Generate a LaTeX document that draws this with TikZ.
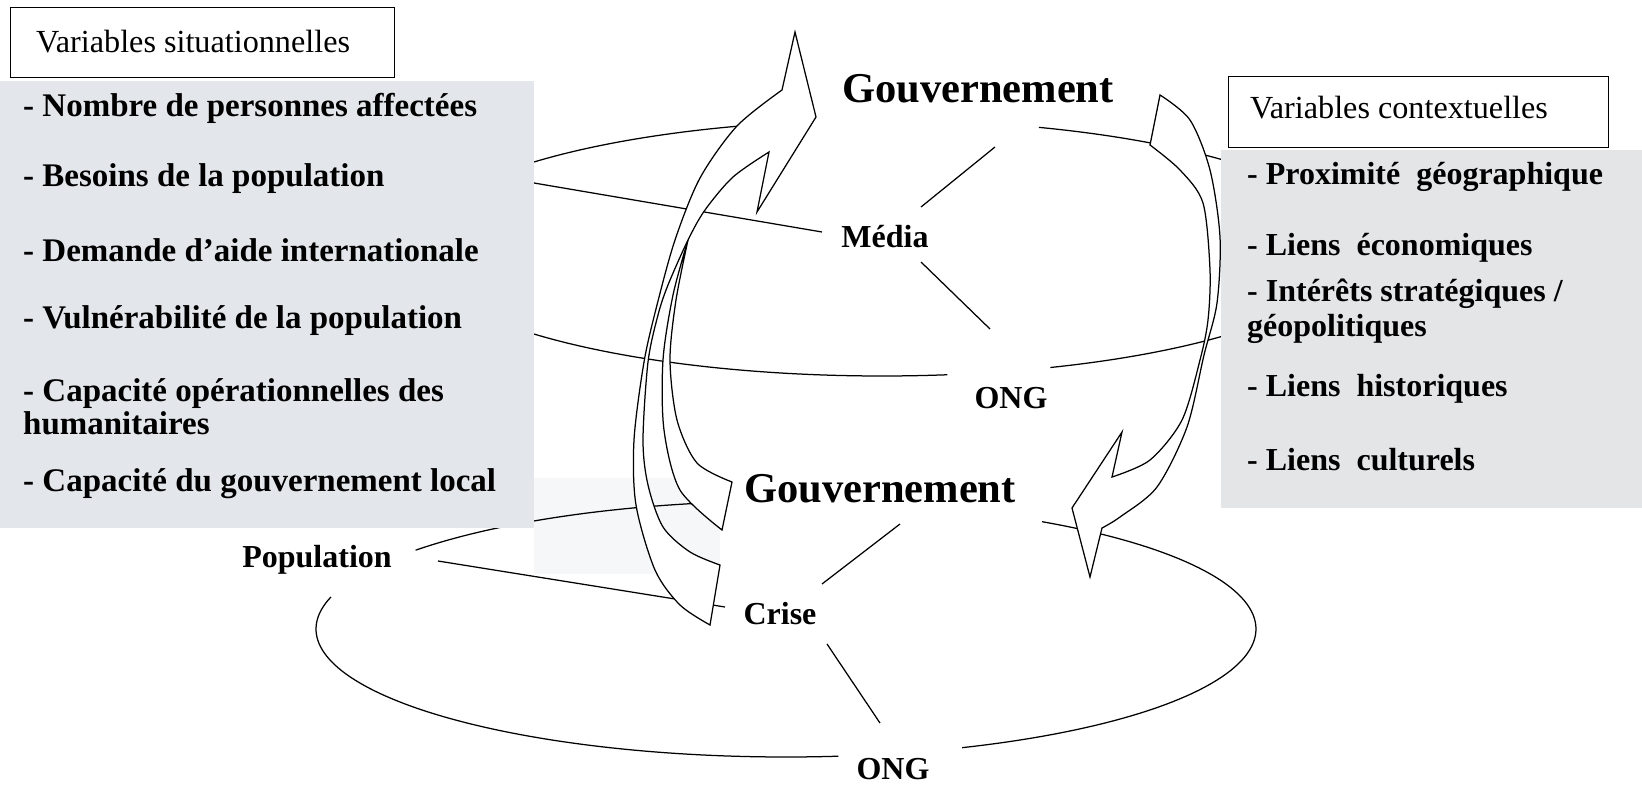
\documentclass[tikz,border=0pt]{standalone}
\usepackage{fontspec}
\setmainfont{Liberation Serif}
\definecolor{panelL}{RGB}{227,230,234}
\definecolor{panelR}{RGB}{228,229,231}
\definecolor{lightp}{RGB}{246,247,248}
\tikzset{
  hdrbox/.style={draw, line width=1pt, fill=white},
  hdrtxt/.style={font=\fontsize{32.2}{36}\selectfont, anchor=west, inner sep=0pt},
  litem/.style={font=\fontsize{33}{33}\selectfont\bfseries, anchor=west, inner sep=0pt, align=left},
  ritem/.style={font=\fontsize{32}{35}\selectfont\bfseries, anchor=west, inner sep=0pt, align=left},
  actor/.style={font=\fontsize{32}{36}\selectfont\bfseries, inner sep=0pt},
  govlbl/.style={font=\fontsize{42.5}{48}\selectfont\bfseries, inner sep=0pt},
  conn/.style={line width=1.25pt},
  bigarrow/.style={draw, fill=white, line width=1.25pt, line join=miter},
}
\begin{document}
\begin{tikzpicture}[x=1pt,y=-1pt]
\useasboundingbox (0,0) rectangle (1642,788);
\fill[white] (0,0) rectangle (1642,788);

% faint background strip
\fill[lightp] (534,478) rectangle (720,574);

% ---------- upper ellipse (international network) ----------
\draw[conn] plot[domain=180:255, samples=60, variable=\t] ({882+470*cos(\t)},{248+128*sin(\t)});
\draw[conn] plot[domain=289.5:360, samples=60, variable=\t] ({882+470*cos(\t)},{248+128*sin(\t)});
\draw[conn] plot[domain=82:180, samples=60, variable=\t] ({882+470*cos(\t)},{248+128*sin(\t)});
\draw[conn] plot[domain=0:69, samples=60, variable=\t] ({882+470*cos(\t)},{248+128*sin(\t)});

% ---------- lower ellipse (local network) ----------
\draw[conn] plot[domain=218:260, samples=40, variable=\t] ({786+470*cos(\t)},{629+128*sin(\t)});
\draw[conn] plot[domain=-57:68, samples=80, variable=\t] ({786+470*cos(\t)},{629+128*sin(\t)});
\draw[conn] plot[domain=83.6:194.5, samples=80, variable=\t] ({786+470*cos(\t)},{629+128*sin(\t)});

% ---------- actor labels ----------
\node[govlbl] (gouvH) at (978,89) {Gouvernement};
\node[actor] (media) at (885,237) {Média};
\node[actor] (ongH) at (1011,398) {ONG};
\node[govlbl] (gouvB) at (880,489) {Gouvernement};
\node[actor] (pop) at (317,560) {Population};
\node[actor] (crise) at (780,614) {Crise};
\node[actor] (ongB) at (893,769) {ONG};

% connector end points
\coordinate (besoinsEnd) at (534,183);
\coordinate (mediaW) at (822,232);
\coordinate (mediaNE) at (921,207);
\coordinate (gouvHsw) at (995,147);
\coordinate (mediaSE) at (921,262);
\coordinate (ongHnw) at (990,329);
\coordinate (popE) at (438,561);
\coordinate (criseW) at (725,607);
\coordinate (criseNE) at (822,584);
\coordinate (gouvBsw) at (900,524);
\coordinate (criseSE) at (827,644);
\coordinate (ongBnw) at (880,723);

\draw[conn] (besoinsEnd) -- (mediaW);
\draw[conn] (mediaNE) -- (gouvHsw);
\draw[conn] (mediaSE) -- (ongHnw);
\draw[conn] (popE) -- (criseW);
\draw[conn] (criseNE) -- (gouvBsw);
\draw[conn] (criseSE) -- (ongBnw);

% ---------- left panel ----------
\fill[panelL] (0,81) rectangle (534,528);
\node[hdrbox, minimum width=384pt, minimum height=70pt, anchor=north west] (hdrL) at (10,7) {};
\node[hdrtxt] (hdrLt) at (36,42) {Variables situationnelles};
\node[litem] (li1) at (23,108) {- Nombre de personnes affectées};
\node[litem] (li2) at (23,179) {- Besoins de la population};
\node[litem] (li3) at (23,250) {- Demande d’aide internationale};
\node[litem] (li4) at (23,321) {- Vulnérabilité de la population};
\node[litem] (li5) at (23,407) {- Capacité opérationnelles des\\humanitaires};
\node[litem] (li6) at (23,484) {- Capacité du gouvernement local};

% ---------- right panel ----------
\fill[panelR] (1221,150) rectangle (1642,508);
\node[hdrbox, minimum width=380pt, minimum height=71pt, anchor=north west] (hdrR) at (1228,76) {};
\node[hdrtxt] (hdrRt) at (1250,108) {Variables contextuelles};
\node[ritem] (ri1) at (1247,177) {- Proximité\ \ géographique};
\node[ritem] (ri2) at (1247,248) {- Liens\ \ économiques};
\node[ritem] (ri3) at (1247,311) {- Intérêts stratégiques /\\géopolitiques};
\node[ritem] (ri4) at (1247,389) {- Liens\ \ historiques};
\node[ritem] (ri5) at (1247,460) {- Liens\ \ culturels};

% ---------- left arrows (upward) ----------
% arrow from local government
\filldraw[bigarrow] (688,240)
  -- plot[smooth] coordinates {(688,240) (673,295) (663,360) (664,430) (680,490) (722,530)}
  -- (732,482)
  -- plot[smooth] coordinates {(732,482) (697,463) (677,420) (670,360) (676,300) (688,240)}
  -- cycle;
% arrow from crisis
\filldraw[bigarrow] (769,152) -- (757,212) -- (816,117) -- (795,32) -- (782,90)
  -- plot[smooth] coordinates {(782,90) (737,126) (700,178) (675,240) (657,305) (644,362) (634,440) (636,505) (655,570) (680,605) (710,625)}
  -- (720,565)
  -- plot[smooth] coordinates {(720,565) (690,552) (663,527) (648,485) (643,440) (648,362) (658,315) (668,285) (688,240) (705,210) (733,177) (769,152)}
  -- cycle;

% ---------- right arrow (downward) ----------
\filldraw[bigarrow] (1150,145) -- (1160,95)
  -- plot[smooth] coordinates {(1160,95) (1190,120) (1210,170) (1220,237) (1217,303) (1204,355) (1187,427) (1157,487) (1120,517) (1102,528)}
  -- (1090,577) -- (1072,508) -- (1122,432) -- (1112,477)
  -- plot[smooth] coordinates {(1112,477) (1150,460) (1182,420) (1200,360) (1208,320) (1210,270) (1203,203) (1180,170) (1150,145)}
  -- cycle;
\end{tikzpicture}
\end{document}
